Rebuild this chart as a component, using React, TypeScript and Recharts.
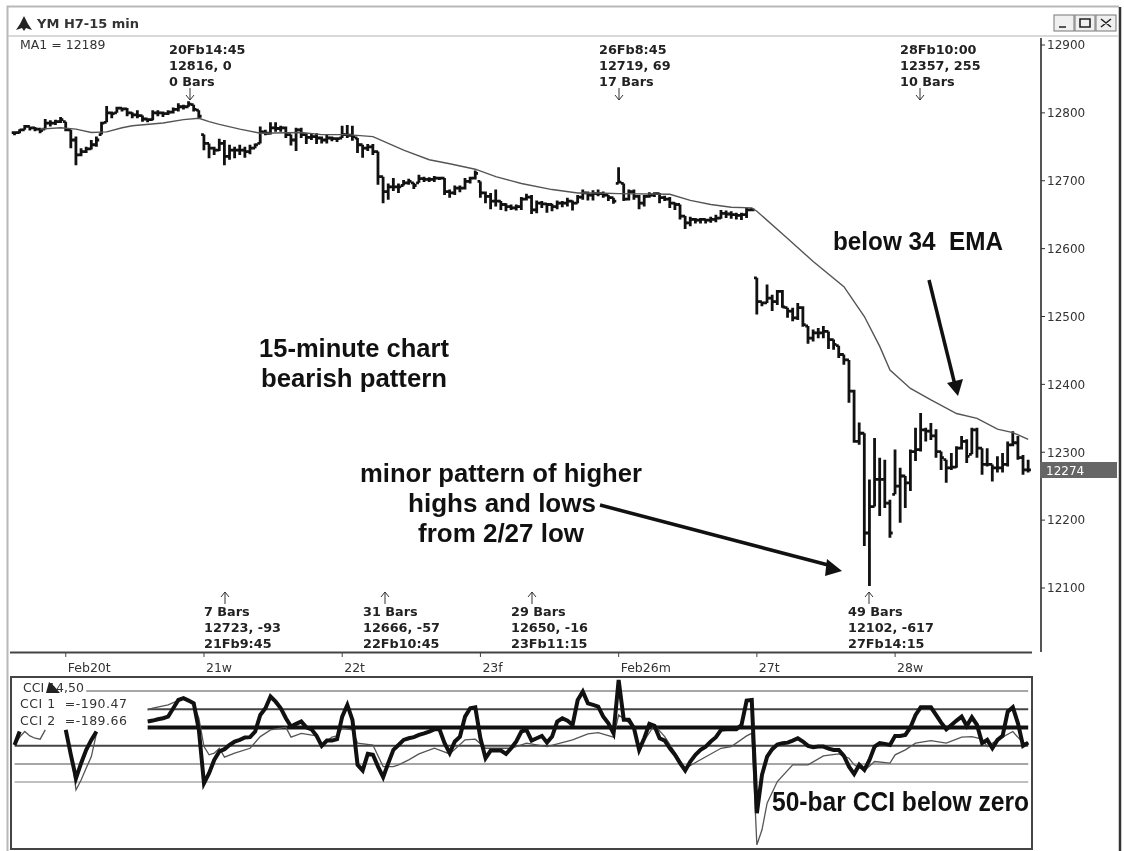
import { Bar, ComposedChart, Line, ReferenceLine, XAxis, YAxis } from 'recharts';

const highs = [
  12773, 12776, 12782, 12780, 12779, 12778, 12791, 12789, 12790, 12794, 12787, 12775, 12765, 12748, 12750, 12760, 12765, 12787, 12810, 12802,
  12809, 12808, 12807, 12801, 12804, 12796, 12792, 12804, 12804, 12802, 12804, 12808, 12814, 12812, 12817, 12812, 12804,
  12768, 12755, 12750, 12762, 12760, 12753, 12750, 12753, 12750, 12753, 12755, 12780, 12775, 12786, 12786, 12781, 12780, 12768, 12778, 12778,
  12770, 12770, 12770, 12765, 12768, 12765, 12764, 12781, 12782, 12781, 12763, 12753, 12754, 12754, 12743, 12706, 12696, 12704, 12696,
  12701, 12703, 12697, 12709, 12706, 12705, 12707, 12706, 12704, 12687, 12693, 12693, 12704, 12706, 12715, 12699, 12684, 12682, 12687, 12670,
  12667, 12665, 12665, 12676, 12681, 12679, 12671, 12670, 12667, 12666, 12671, 12670, 12675, 12671, 12679, 12687, 12684, 12686, 12687, 12684,
  12679, 12675, 12720, 12696, 12687, 12687, 12679, 12679, 12683, 12683, 12682, 12678, 12676, 12668, 12665, 12648, 12647, 12645, 12645, 12644,
  12647, 12650, 12657, 12656, 12655, 12653, 12653, 12660, 12660,
  12557, 12522, 12547, 12532, 12539, 12539, 12513, 12513, 12520, 12515, 12486, 12481, 12483, 12486, 12478, 12466, 12457, 12444, 12436, 12392,
  12344, 12328, 12260, 12321, 12292, 12289, 12230, 12304, 12277, 12265, 12304, 12336, 12358, 12336, 12343, 12334, 12301, 12289, 12299, 12309,
  12324, 12319, 12336, 12336, 12306, 12306, 12282, 12294, 12299, 12316, 12331, 12324, 12296, 12289,
];
const lows = [
  12767, 12770, 12775, 12774, 12773, 12770, 12776, 12780, 12782, 12785, 12773, 12748, 12723, 12736, 12741, 12746, 12750, 12768, 12786, 12792,
  12800, 12802, 12795, 12792, 12792, 12787, 12786, 12789, 12795, 12794, 12797, 12799, 12802, 12805, 12809, 12802, 12792,
  12745, 12733, 12738, 12744, 12723, 12731, 12733, 12738, 12734, 12739, 12748, 12755, 12767, 12768, 12772, 12772, 12763, 12752, 12744, 12763,
  12754, 12760, 12754, 12755, 12755, 12758, 12757, 12763, 12763, 12759, 12741, 12734, 12744, 12738, 12694, 12667, 12672, 12685, 12682,
  12693, 12694, 12688, 12697, 12698, 12698, 12698, 12701, 12679, 12675, 12679, 12683, 12687, 12696, 12702, 12675, 12667, 12658, 12662, 12657,
  12655, 12657, 12656, 12657, 12671, 12651, 12652, 12660, 12653, 12655, 12658, 12661, 12662, 12656, 12667, 12672, 12671, 12671, 12677, 12675,
  12670, 12666, 12696, 12670, 12671, 12672, 12658, 12662, 12675, 12676, 12667, 12670, 12660, 12657, 12643, 12629, 12633, 12637, 12637, 12637,
  12638, 12639, 12644, 12645, 12644, 12643, 12642, 12645, 12655,
  12503, 12515, 12520, 12508, 12517, 12513, 12498, 12493, 12495, 12485, 12460, 12463, 12468, 12468, 12452, 12451, 12439, 12429, 12373, 12314,
  12311, 12162, 12103, 12220, 12206, 12218, 12174, 12238, 12196, 12218, 12243, 12287, 12301, 12316, 12318, 12292, 12274, 12255, 12274, 12277,
  12304, 12284, 12297, 12292, 12267, 12279, 12257, 12270, 12270, 12279, 12309, 12289, 12267, 12270,
];
const closes = [
  12771, 12775, 12780, 12778, 12776, 12774, 12785, 12785, 12787, 12790, 12775, 12760, 12738, 12743, 12747, 12753, 12760, 12785, 12800, 12799,
  12807, 12806, 12800, 12797, 12796, 12791, 12790, 12800, 12800, 12799, 12801, 12805, 12809, 12809, 12813, 12805, 12795,
  12755, 12748, 12745, 12755, 12736, 12745, 12745, 12745, 12743, 12748, 12753, 12772, 12770, 12778, 12777, 12778, 12768, 12760, 12775, 12768,
  12764, 12765, 12763, 12760, 12763, 12762, 12762, 12768, 12767, 12765, 12753, 12748, 12750, 12743, 12706, 12684, 12691, 12691, 12691,
  12697, 12699, 12693, 12703, 12702, 12702, 12704, 12704, 12684, 12682, 12689, 12689, 12699, 12704, 12711, 12682, 12677, 12670, 12670, 12665,
  12662, 12660, 12662, 12673, 12676, 12657, 12667, 12666, 12665, 12662, 12667, 12667, 12670, 12667, 12676, 12682, 12679, 12681, 12681, 12679,
  12675, 12670, 12698, 12673, 12684, 12677, 12667, 12677, 12679, 12681, 12675, 12673, 12667, 12665, 12648, 12638, 12643, 12642, 12643, 12642,
  12643, 12645, 12652, 12651, 12650, 12649, 12650, 12657, 12657,
  12522, 12520, 12527, 12522, 12537, 12514, 12508, 12498, 12513, 12488, 12468, 12476, 12476, 12478, 12466, 12459, 12444, 12436, 12390, 12316,
  12328, 12181, 12220, 12260, 12260, 12225, 12181, 12250, 12265, 12255, 12301, 12304, 12333, 12331, 12324, 12301, 12292, 12277, 12278, 12306,
  12316, 12294, 12333, 12306, 12282, 12282, 12277, 12277, 12282, 12311, 12314, 12292, 12274, 12274,
];

// 34 EMA, read at the bars where it is clearly visible
const emaBars = [
  5, 9, 12, 15, 18, 21, 23, 29, 33, 36, 38, 40, 44, 48, 56, 60, 65, 70, 73, 76, 81, 85, 90, 94, 99, 105, 110, 114, 118, 128, 132, 136, 140, 144,
  145, 151, 156, 162, 166, 169, 171, 175, 179, 184, 188, 192, 195, 198,
];
const emaValues = [
  12776, 12778, 12776, 12771, 12772, 12778, 12781, 12785, 12790, 12792, 12787, 12783, 12776, 12770, 12771, 12768, 12768, 12765, 12755, 12745,
  12731, 12725, 12717, 12706, 12696, 12687, 12682, 12682, 12681, 12680, 12671, 12665, 12661, 12660, 12655, 12615, 12581, 12544, 12500, 12456,
  12421, 12394, 12377, 12357, 12350, 12334, 12329, 12319,
];

// CCI 1 (14 bar, heavy line), visible in three stretches around the legend
const fastLeftBars = [0, 1];
const fastLeft = [-96, -22];
const fastVBars = [10, 11, 12, 13, 14, 15, 16];
const fastV = [-13, -150, -279, -196, -123, -68, -22];
const fastMainStart = 26;
const fastMain = [
  33, 38, 45, 51, 60, 106, 151, 161, 148, 133, -13, -306, -251, -178, -132, -119, -96, -77, -68, -55, -53, -22, 69, 106, 170, 142, 106, 51, 5, 20,
  33, 1, -10, -46, -101, -72, -72, -64, 60, 124, 42, -205, -236, -145, -150, -215, -273, -196, -123, -96,
  -68, -59, -53, -41, -32, -22, -10, -10, -86, -141, -77, -50, 60, 106, 111, -59, -169, -127, -127, -127, -145, -114, -77, -22, -13, -72, -59, -46,
  -83, -50, 33, 51, 38, 14, 151, 197, 133, 124, 115, 60, 23, -32, 261, 42, 42, -4, -123, -59, 20, 9, -59, -72, -114, -150, -196, -236, -187, -150,
  -123, -105, -77, -53, -13, -10, -10, -10, 14, 148, 151, -471, -260, -160, -119, -94, -86, -83, -72, -59, -77, -101, -108, -105, -105, -116, -123,
  -123, -156, -215, -255, -205, -233, -178, -105, -86, -90, -96, -46, -46, -41, 1, 69, 111, 111, 111, 69, 27, -10, 14, 38, 60, 9, 56, 14, -86, -68,
  -114, -68, -46, 87, 111, 23, -101, -83,
];

// CCI 2 (50 bar, thin line)
const slowLeftBars = [0, 1, 2, 3, 4, 5, 6];
const slowLeft = [-96, -53, -22, -46, -59, -64, -13];
const slowVBars = [10, 11, 12, 13, 14, 15, 16];
const slowV = [-13, -130, -343, -288, -222, -160, -32];
const slowMainBars = [
  26, 27, 30, 33, 35, 36, 37, 38, 39, 40, 41, 43, 46, 48, 50, 53, 54, 56, 59, 60, 62, 63, 64, 66, 67, 70, 72, 74, 75, 77, 79, 82, 85, 88, 90, 92, 97,
  100, 104, 109, 112, 114, 117, 118, 121, 122, 125, 127, 131, 138, 140, 143, 144, 145, 146, 147, 149, 152, 155, 158, 161, 163, 164, 166, 168, 171,
  172, 174, 176, 179, 182, 185, 187, 189, 190, 192, 195, 197, 198,
];
const slowMain = [
  97, 106, 124, 161, 124, 51, -105, -150, -141, -114, -163, -141, -114, -50, -13, 1, -53, -32, -46, -96, -53, -46, -4, -13, -86, -96, -215, -215,
  -205, -178, -145, -114, -145, -68, -64, -114, -114, -86, -105, -68, -35, -28, -53, 69, 5, -114, 14, -50, -224, -114, -105, -46, -32, -645, -562,
  -416, -297, -205, -205, -156, -145, -169, -205, -236, -187, -196, -150, -123, -86, -72, -86, -53, -50, -64, -105, -68, -22, -86, -83,
];

const priceTicks = [12100, 12200, 12300, 12400, 12500, 12600, 12700, 12800, 12900];
const dateBars = [10, 37, 64, 91, 118, 145, 172];
const dateLabels = ['Feb20t', '21w', '22t', '23f', 'Feb26m', '27t', '28w'];
const BAR_SLOTS = 201;

function pick(bars: number[], values: number[], i: number) {
  const at = bars.indexOf(i);
  return at < 0 ? null : values[at];
}

const rows = Array.from({ length: BAR_SLOTS }, (_, i) => {
  const hasBar = i < highs.length;
  return {
    i,
    range: hasBar ? [lows[i], highs[i]] : null,
    high: highs[i],
    low: lows[i],
    close: closes[i],
    open: hasBar && i > 0 ? Math.min(highs[i], Math.max(lows[i], closes[i - 1])) : closes[i],
    ema: pick(emaBars, emaValues, i),
    fastA: pick(fastLeftBars, fastLeft, i),
    fastB: pick(fastVBars, fastV, i),
    fastC: i >= fastMainStart && i - fastMainStart < fastMain.length ? fastMain[i - fastMainStart] : null,
    slowA: pick(slowLeftBars, slowLeft, i),
    slowB: pick(slowVBars, slowV, i),
    slowC: pick(slowMainBars, slowMain, i),
  };
});

function OhlcBar(props: any) {
  const { x, y, width, height, payload } = props;
  if (!payload || !payload.range) return null;
  const cx = x + width / 2;
  const spread = payload.high - payload.low || 1;
  const yOf = (v: number) => y + ((payload.high - v) / spread) * height;
  return (
    <path
      d={`M${cx},${y}V${y + height}M${cx - 2.8},${yOf(payload.open)}H${cx}M${cx},${yOf(payload.close)}H${cx + 2.8}`}
      stroke="#111"
      strokeWidth={2.8}
      fill="none"
    />
  );
}

function DateTick({ x, y, payload }: any) {
  const label = dateLabels[dateBars.indexOf(payload.value)];
  return (
    <text x={x + 2} y={y + 13} fontSize={12.5} fontFamily="DejaVu Sans" fill="#333">
      {label}
    </text>
  );
}

const SMALL = { fontFamily: 'DejaVu Sans', fontSize: 12.8, fontWeight: 700, fill: '#222' } as const;
const BIG = { fontFamily: 'Liberation Sans', fontSize: 25, fontWeight: 700, fill: '#111' } as const;
const PLAIN = { fontFamily: 'DejaVu Sans', fontSize: 12.5, fill: '#333' } as const;

function Note({ x, y, lines }: { x: number; y: number; lines: string[] }) {
  return (
    <>
      {lines.map((line, n) => (
        <text key={line} x={x} y={y + n * 16} {...SMALL}>
          {line}
        </text>
      ))}
    </>
  );
}

function Big({ x, y, w, size = 25, children }: { x: number; y: number; w: number; size?: number; children: string }) {
  return (
    <text x={x} y={y} textLength={w} lengthAdjust="spacingAndGlyphs" {...BIG} fontSize={size} style={{ whiteSpace: 'pre' }}>
      {children}
    </text>
  );
}

function DownArrow({ x }: { x: number }) {
  return <path d={`M${x},88V100M${x - 4},95L${x},100L${x + 4},95`} stroke="#333" fill="none" />;
}

function UpArrow({ x }: { x: number }) {
  return <path d={`M${x},604V592M${x - 4},597L${x},592L${x + 4},597`} stroke="#333" fill="none" />;
}

export default function App() {
  return (
    <div style={{ position: 'absolute', left: 0, top: 0, width: 1124, height: 851, background: '#fff', overflow: 'hidden', filter: 'blur(0.45px)' }}>
      <div style={{ position: 'absolute', left: 0, top: 0 }}>
        <ComposedChart width={1124} height={680} data={rows} margin={{ top: 38, right: 0, bottom: 0, left: 12 }}>
          <XAxis
            dataKey="i"
            type="category"
            scale="band"
            height={28}
            ticks={dateBars}
            interval={0}
            axisLine={false}
            tickLine={{ stroke: '#444' }}
            tickSize={5}
            tick={<DateTick />}
          />
          <YAxis
            orientation="right"
            width={83}
            domain={[12005.7, 12910.3]}
            ticks={priceTicks}
            interval={0}
            axisLine={{ stroke: '#555', strokeWidth: 2 }}
            tickLine={{ stroke: '#333' }}
            tickSize={4}
            tickMargin={2}
            tick={{ fontSize: 12, fontFamily: 'DejaVu Sans', fill: '#333' }}
          />
          <Bar dataKey="range" barSize={5} shape={<OhlcBar />} isAnimationActive={false} />
          <Line dataKey="ema" stroke="#555" strokeWidth={1.4} dot={false} connectNulls isAnimationActive={false} />
        </ComposedChart>
      </div>

      <div style={{ position: 'absolute', left: 0, top: 0 }}>
        <ComposedChart width={1124} height={851} data={rows} margin={{ top: 678, right: 83, bottom: 3, left: 12 }}>
          <XAxis dataKey="i" type="category" scale="band" hide />
          <YAxis hide domain={[-662, 272]} />
          <ReferenceLine segment={[{ x: 14, y: 200 }, { x: 198, y: 200 }]} stroke="#888" strokeWidth={1.5} />
          <ReferenceLine segment={[{ x: 26, y: 100 }, { x: 198, y: 100 }]} stroke="#444" strokeWidth={2} />
          <ReferenceLine segment={[{ x: 26, y: 0 }, { x: 198, y: 0 }]} stroke="#111" strokeWidth={4} />
          <ReferenceLine segment={[{ x: 0, y: -100 }, { x: 198, y: -100 }]} stroke="#444" strokeWidth={2} />
          <ReferenceLine segment={[{ x: 0, y: -200 }, { x: 198, y: -200 }]} stroke="#888" strokeWidth={1.5} />
          <ReferenceLine segment={[{ x: 0, y: -300 }, { x: 198, y: -300 }]} stroke="#aaa" strokeWidth={1.5} />
          <Line dataKey="slowA" stroke="#555" strokeWidth={1.3} dot={false} connectNulls isAnimationActive={false} />
          <Line dataKey="slowB" stroke="#555" strokeWidth={1.3} dot={false} connectNulls isAnimationActive={false} />
          <Line dataKey="slowC" stroke="#555" strokeWidth={1.3} dot={false} connectNulls isAnimationActive={false} />
          <Line dataKey="fastA" stroke="#111" strokeWidth={4} dot={false} connectNulls isAnimationActive={false} />
          <Line dataKey="fastB" stroke="#111" strokeWidth={4} dot={false} connectNulls isAnimationActive={false} />
          <Line dataKey="fastC" stroke="#111" strokeWidth={4} dot={false} connectNulls isAnimationActive={false} />
        </ComposedChart>
      </div>

      <svg width={1124} height={851} style={{ position: 'absolute', left: 0, top: 0, pointerEvents: 'none' }}>
        {/* window frame and title bar */}
        <path d="M7.5,851V6.5H1119" stroke="#b8b8b8" strokeWidth={2} fill="none" />
        <path d="M1120,7V851" stroke="#333" strokeWidth={2.5} fill="none" />
        <path d="M8,36H1119" stroke="#ccc" strokeWidth={1.5} />
        <path d="M24,16L28,24L32,30L26,28L24,31L22,28L16,30L20,24Z" fill="#222" />
        <text x={37} y={28} fontFamily="DejaVu Sans" fontSize={13} fontWeight={700} fill="#333">
          YM H7-15 min
        </text>
        <g stroke="#777" fill="#f0f0f0">
          <rect x={1054} y={15} width={20} height={16} />
          <rect x={1075} y={15} width={20} height={16} />
          <rect x={1096} y={15} width={20} height={16} />
        </g>
        <path d="M1059,27H1066M1080,19H1090V27H1080ZM1101,19L1111,27M1111,19L1101,27" stroke="#222" strokeWidth={1.6} fill="none" />
        <text x={20} y={49} {...PLAIN}>
          MA1 = 12189
        </text>

        {/* axis lines and the CCI pane */}
        <path d="M10,652.5H1032" stroke="#444" strokeWidth={2} />
        <rect x={11} y={677} width={1021} height={172} stroke="#444" strokeWidth={2} fill="none" />

        {/* last price tag */}
        <rect x={1040} y={462} width={77} height={16} fill="#666" />
        <text x={1046} y={475} fontFamily="DejaVu Sans" fontSize={12} fill="#fff">
          12274
        </text>

        {/* swing labels */}
        <Note x={169} y={54} lines={['20Fb14:45', '12816, 0', '0 Bars']} />
        <Note x={599} y={54} lines={['26Fb8:45', '12719, 69', '17 Bars']} />
        <Note x={900} y={54} lines={['28Fb10:00', '12357, 255', '10 Bars']} />
        <Note x={204} y={616} lines={['7 Bars', '12723, -93', '21Fb9:45']} />
        <Note x={363} y={616} lines={['31 Bars', '12666, -57', '22Fb10:45']} />
        <Note x={511} y={616} lines={['29 Bars', '12650, -16', '23Fb11:15']} />
        <Note x={848} y={616} lines={['49 Bars', '12102, -617', '27Fb14:15']} />
        <DownArrow x={190} />
        <DownArrow x={619} />
        <DownArrow x={920} />
        <UpArrow x={225} />
        <UpArrow x={385} />
        <UpArrow x={532} />
        <UpArrow x={869} />

        {/* annotations */}
        <Big x={259} y={357} w={190}>15-minute chart</Big>
        <Big x={261} y={387} w={186}>bearish pattern</Big>
        <Big x={360} y={482} w={282}>minor pattern of higher</Big>
        <Big x={408} y={512} w={188}>highs and lows</Big>
        <Big x={418} y={542} w={166}>from 2/27 low</Big>
        <Big x={833} y={250} w={170}>below 34  EMA</Big>
        <Big x={772} y={811} w={257} size={28}>50-bar CCI below zero</Big>
        <path d="M600,505L832,566" stroke="#111" strokeWidth={3.5} />
        <path d="M842,571L827,559L825,576Z" fill="#111" />
        <path d="M929,280L955,385" stroke="#111" strokeWidth={3.5} />
        <path d="M958,396L947,383L963,379Z" fill="#111" />

        {/* CCI legend */}
        <text x={23} y={692} {...PLAIN}>CCI 14,50</text>
        <text x={20} y={708} textLength={107} style={{ whiteSpace: 'pre' }} {...PLAIN}>CCI 1  =-190.47</text>
        <text x={20} y={725} textLength={107} style={{ whiteSpace: 'pre' }} {...PLAIN}>CCI 2  =-189.66</text>
        <path d="M46,693L49,682L54,686L60,693Z" fill="#222" />
      </svg>
    </div>
  );
}
